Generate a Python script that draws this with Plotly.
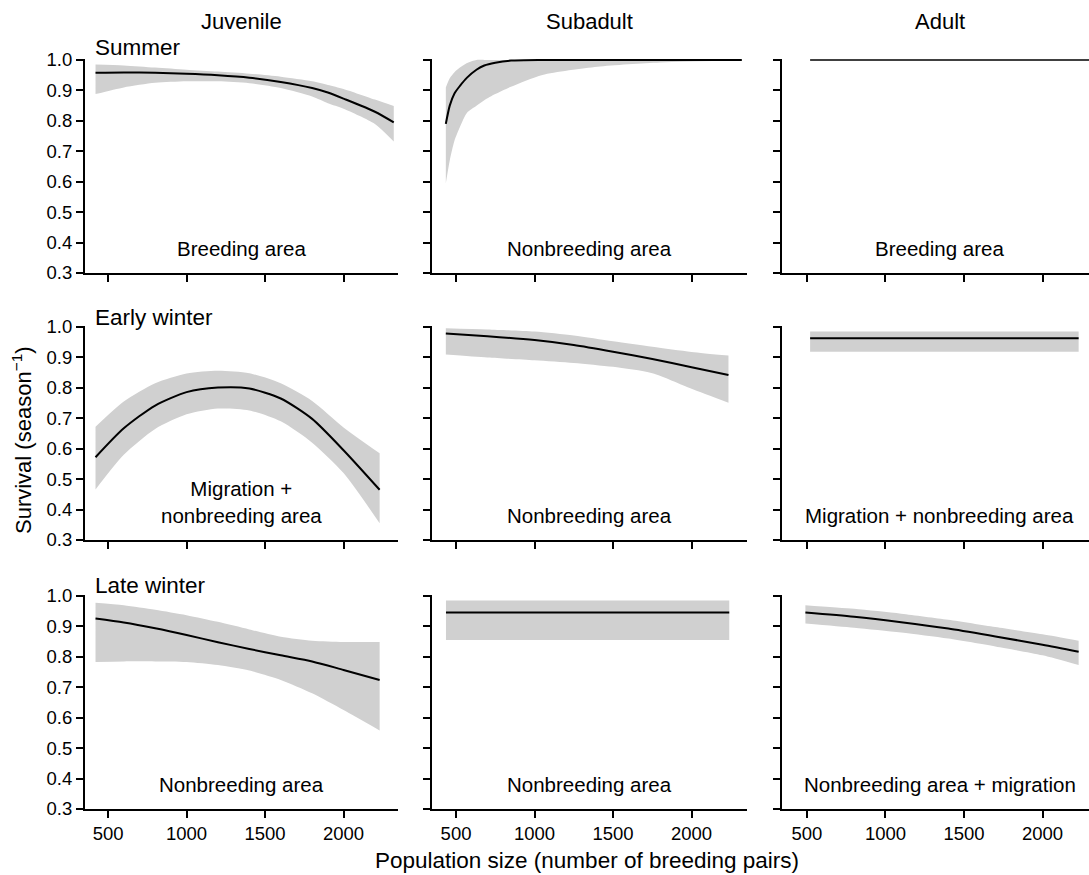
import plotly.graph_objects as go

W, H = 1089, 875
FONT = "Liberation Sans, Arial, Helvetica, sans-serif"
BAND = "#d0d0d0"

# ---------------- data ----------------
# Summer
juv_sum_x = [420, 600, 800, 1000, 1200, 1400, 1600, 1800, 1900, 2000, 2200, 2320]
juv_sum_mid = [0.958, 0.959, 0.958, 0.955, 0.950, 0.942, 0.928, 0.908, 0.893, 0.873, 0.830, 0.795]
juv_sum_hi = [0.985, 0.982, 0.975, 0.968, 0.962, 0.955, 0.945, 0.930, 0.918, 0.905, 0.870, 0.849]
juv_sum_lo = [0.888, 0.910, 0.925, 0.930, 0.930, 0.924, 0.908, 0.880, 0.858, 0.840, 0.790, 0.732]

sub_sum_x = [435, 460, 490, 525, 570, 630, 680, 750, 850, 1050, 1400, 1800, 2320]
sub_sum_mid = [0.790, 0.850, 0.890, 0.915, 0.942, 0.968, 0.982, 0.991, 0.998, 1.0, 1.0, 1.0, 1.0]
sub_sum_hi = [0.910, 0.940, 0.960, 0.975, 0.990, 1.0, 1.0, 1.0, 1.0, 1.0, 1.0, 1.0, 1.0]
sub_sum_lo = [0.595, 0.670, 0.735, 0.780, 0.827, 0.850, 0.868, 0.888, 0.912, 0.951, 0.978, 0.992, 0.998]

ad_sum_x = [520, 2320]
ad_sum_mid = [1.0, 1.0]

# Early winter
juv_ew_x = [420, 600, 800, 1000, 1200, 1400, 1600, 1800, 2000, 2230]
juv_ew_mid = [0.572, 0.667, 0.742, 0.786, 0.801, 0.798, 0.765, 0.698, 0.595, 0.465]
juv_ew_hi = [0.672, 0.755, 0.815, 0.847, 0.856, 0.848, 0.815, 0.757, 0.670, 0.585]
juv_ew_lo = [0.466, 0.580, 0.665, 0.713, 0.732, 0.726, 0.690, 0.620, 0.520, 0.355]

sub_ew_x = [435, 700, 1000, 1250, 1500, 1750, 2000, 2235]
sub_ew_mid = [0.979, 0.970, 0.957, 0.941, 0.919, 0.895, 0.868, 0.842]
sub_ew_hi = [0.996, 0.992, 0.985, 0.972, 0.953, 0.935, 0.918, 0.906]
sub_ew_lo = [0.910, 0.900, 0.891, 0.882, 0.869, 0.848, 0.797, 0.751]

ad_ew_x = [520, 2230]
ad_ew_mid = [0.963, 0.963]
ad_ew_hi = [0.985, 0.985]
ad_ew_lo = [0.919, 0.919]

# Late winter
juv_lw_x = [420, 600, 800, 1000, 1200, 1400, 1600, 1800, 2000, 2230]
juv_lw_mid = [0.926, 0.913, 0.894, 0.872, 0.848, 0.826, 0.805, 0.785, 0.757, 0.724]
juv_lw_hi = [0.978, 0.970, 0.955, 0.937, 0.915, 0.890, 0.866, 0.853, 0.849, 0.849]
juv_lw_lo = [0.783, 0.785, 0.785, 0.783, 0.773, 0.755, 0.724, 0.680, 0.625, 0.558]

sub_lw_x = [436, 2240]
sub_lw_mid = [0.946, 0.946]
sub_lw_hi = [0.985, 0.985]
sub_lw_lo = [0.855, 0.855]

ad_lw_x = [490, 800, 1100, 1400, 1700, 2000, 2230]
ad_lw_mid = [0.946, 0.932, 0.914, 0.893, 0.867, 0.840, 0.817]
ad_lw_hi = [0.970, 0.958, 0.942, 0.922, 0.898, 0.874, 0.853]
ad_lw_lo = [0.910, 0.896, 0.880, 0.860, 0.834, 0.805, 0.773]

col_titles = ["Juvenile", "Subadult", "Adult"]
row_titles = ["Summer", "Early winter", "Late winter"]
panel_notes = [
    ["Breeding area", "Nonbreeding area", "Breeding area"],
    ["Migration +<br>nonbreeding area", "Nonbreeding area", "Migration + nonbreeding area"],
    ["Nonbreeding area", "Nonbreeding area", "Nonbreeding area + migration"],
]
x_ticks = [500, 1000, 1500, 2000]
y_ticks = [0.3, 0.4, 0.5, 0.6, 0.7, 0.8, 0.9, 1.0]

panels = [
    [(juv_sum_x, juv_sum_mid, juv_sum_hi, juv_sum_lo),
     (sub_sum_x, sub_sum_mid, sub_sum_hi, sub_sum_lo),
     (ad_sum_x, ad_sum_mid, None, None)],
    [(juv_ew_x, juv_ew_mid, juv_ew_hi, juv_ew_lo),
     (sub_ew_x, sub_ew_mid, sub_ew_hi, sub_ew_lo),
     (ad_ew_x, ad_ew_mid, ad_ew_hi, ad_ew_lo)],
    [(juv_lw_x, juv_lw_mid, juv_lw_hi, juv_lw_lo),
     (sub_lw_x, sub_lw_mid, sub_lw_hi, sub_lw_lo),
     (ad_lw_x, ad_lw_mid, ad_lw_hi, ad_lw_lo)],
]

# ---------------- layout geometry (pixels) ----------------
col_px = [(85, 398), (432, 747), (782, 1089)]
col_ranges = [[353, 2347], [347, 2353], [341, 2296]]
row_px = [(59, 273), (326, 540), (595, 809)]
Y_RANGE = [0.3, 1.0033]

fig = go.Figure()
layout = dict(
    width=W, height=H,
    margin=dict(l=0, r=0, t=0, b=0, autoexpand=False),
    paper_bgcolor="white", plot_bgcolor="white",
    showlegend=False,
    font=dict(family=FONT, color="black"),
)
annotations = []
TICK = 18.5
SPL = dict(shape="spline", smoothing=0.7)

for r in range(3):
    for c in range(3):
        idx = r * 3 + c + 1
        xa = "xaxis" if idx == 1 else f"xaxis{idx}"
        ya = "yaxis" if idx == 1 else f"yaxis{idx}"
        xref = "x" if idx == 1 else f"x{idx}"
        yref = "y" if idx == 1 else f"y{idx}"
        x0, x1 = col_px[c]
        y0, y1 = row_px[r]
        layout[xa] = dict(
            domain=[x0 / W, x1 / W], range=col_ranges[c], anchor=yref,
            automargin=False,
            showline=True, linecolor="black", linewidth=2,
            ticks="outside", ticklen=7, tickwidth=2, tickcolor="black",
            tickvals=x_ticks, showticklabels=(r == 2),
            tickfont=dict(size=TICK, family=FONT, color="black"),
            showgrid=False, zeroline=False, fixedrange=True,
        )
        layout[ya] = dict(
            domain=[1 - y1 / H, 1 - y0 / H], range=Y_RANGE, anchor=xref,
            automargin=False,
            showline=True, linecolor="black", linewidth=2,
            ticks="outside", ticklen=7, tickwidth=2, tickcolor="black",
            tickvals=y_ticks, tickformat=".1f", showticklabels=(c == 0),
            tickfont=dict(size=TICK, family=FONT, color="black"),
            showgrid=False, zeroline=False, fixedrange=True,
        )
        xs, mid, hi, lo = panels[r][c]
        if hi is not None:
            fig.add_trace(go.Scatter(
                x=xs, y=lo, mode="lines", line=dict(width=0, **SPL),
                hoverinfo="skip", xaxis=xref, yaxis=yref,
            ))
            fig.add_trace(go.Scatter(
                x=xs, y=hi, mode="lines", line=dict(width=0, **SPL),
                fill="tonexty", fillcolor=BAND,
                hoverinfo="skip", xaxis=xref, yaxis=yref,
            ))
        fig.add_trace(go.Scatter(
            x=xs, y=mid, mode="lines",
            line=dict(color="black", width=2 if hi is not None else 1.3, **SPL),
            xaxis=xref, yaxis=yref,
        ))
        # panel note
        note = panel_notes[r][c]
        ny = 0.425 if "<br>" in note else 0.38
        annotations.append(dict(
            x=(x0 + x1) / 2 / W if c < 2 else (782 + 1097) / 2 / W,
            xref="paper", y=ny, yref=yref,
            text=note, showarrow=False, font=dict(size=20.5, family=FONT),
            xanchor="center", yanchor="middle", align="center",
        ))

# Column titles
for c, t in enumerate(col_titles):
    cx = (col_px[c][0] + (col_px[c][1] if c < 2 else 1097)) / 2
    annotations.append(dict(
        x=cx / W, y=1 - 22 / H, xref="paper", yref="paper", text=t,
        showarrow=False, font=dict(size=22, family=FONT),
        xanchor="center", yanchor="middle",
    ))

# Row (season) labels
row_label_y = [48, 317, 585]
for r, t in enumerate(row_titles):
    annotations.append(dict(
        x=93 / W, y=1 - row_label_y[r] / H, xref="paper", yref="paper", text=t,
        showarrow=False, font=dict(size=22.5, family=FONT),
        xanchor="left", yanchor="middle",
    ))

# Axis titles
annotations.append(dict(
    x=587 / W, y=1 - 860 / H, xref="paper", yref="paper",
    text="Population size (number of breeding pairs)",
    showarrow=False, font=dict(size=22.5, family=FONT),
    xanchor="center", yanchor="middle",
))
annotations.append(dict(
    x=22 / W, y=1 - 440 / H, xref="paper", yref="paper",
    text="Survival (season<sup>\u22121</sup>)", textangle=-90,
    showarrow=False, font=dict(size=22, family=FONT),
    xanchor="center", yanchor="middle",
))

layout["annotations"] = annotations
fig.update_layout(**layout)
fig.write_html(
    "out.html",
    config={"displayModeBar": False},
    post_script="document.body.style.margin='0px';document.body.style.overflow='hidden';",
)
